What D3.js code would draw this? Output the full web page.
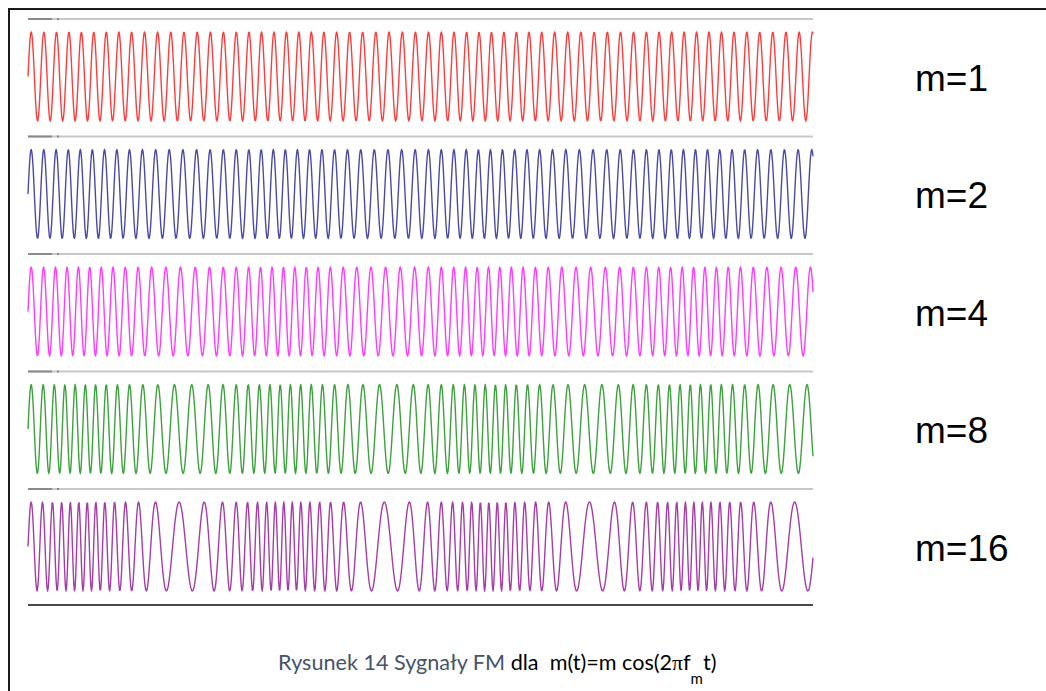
<!DOCTYPE html>
<html>
<head>
<meta charset="utf-8">
<script src="https://cdn.jsdelivr.net/npm/d3@7"></script>
<style>
  html, body { margin: 0; padding: 0; background: #fff; }
  svg { display: block; }
</style>
</head>
<body>
<svg id="chart" width="1046" height="691"></svg>
<script>
// Modulation index of each trace, top to bottom
const indices = [1, 2, 4, 8, 16];
const labels = ["m=1", "m=2", "m=4", "m=8", "m=16"];
const colors = ["#ff1a1a", "#2a2a96", "#ff1aff", "#1a921a", "#961a96"];

// Signal parameters (cycles per plotted window)
const carrierCycles = [61.25];          // f_c
const modulationCycles = [3.83];        // f_m
const deviationPerIndex = [2.0];        // frequency deviation per unit of m
const modulationPeakAt = [0.066];       // window position where m(t) is at its maximum
const samplesPerWindow = [1200];        // sampling of each trace

const captionParts = ["Rysunek 14 Sygnały FM", "dla\u00a0\u00a0m(t)=m cos(2", "π", "f", "m", "t)"];

const svg = d3.select("#chart");
const W = 1046, H = 691;

// page frame
svg.append("path")
  .attr("d", `M${W + 5},9 H9 V${H + 5}`)
  .attr("fill", "none")
  .attr("stroke", "#1a1a1a")
  .attr("stroke-width", 2);

const plotLeft = 28, plotRight = 813;
const firstTop = 19, panelStep = 117.5, amp = 44.5, centerOffset = 57.5;
const bottomY = 605;

const x = d3.scaleLinear().domain([0, 1]).range([plotLeft, plotRight]);
const band = d3.scaleLinear().domain([0, 1]).range([firstTop, firstTop + panelStep]);

const fc = carrierCycles[0], fm = modulationCycles[0], kd = deviationPerIndex[0], t0 = modulationPeakAt[0];
const N = samplesPerWindow[0];
const ts = d3.range(N + 1).map(i => i / N);

function fmSamples(m) {
  const beta = kd * m / fm;
  const offset = beta * Math.sin(2 * Math.PI * fm * (0 - t0));
  return ts.map(t => ({
    t,
    v: Math.sin(2 * Math.PI * fc * t + beta * Math.sin(2 * Math.PI * fm * (t - t0)) - offset)
  }));
}

indices.forEach((m, i) => {
  const top = band(i);
  const cy = top + centerOffset;
  const y = d3.scaleLinear().domain([-1, 1]).range([cy + amp, cy - amp]);

  // axis rule separating the traces
  const g = svg.append("g");
  g.append("line")
    .attr("x1", plotLeft).attr("x2", plotRight)
    .attr("y1", top).attr("y2", top)
    .attr("stroke", "#c8c8c8").attr("stroke-width", 2);
  g.append("line")
    .attr("x1", plotLeft).attr("x2", plotLeft + 24)
    .attr("y1", top).attr("y2", top)
    .attr("stroke", "#8a8a8a").attr("stroke-width", 2);
  g.append("rect")
    .attr("x", plotLeft + 29).attr("y", top - 1)
    .attr("width", 2).attr("height", 2)
    .attr("fill", "#8a8a8a");

  const line = d3.line()
    .x(d => x(d.t))
    .y(d => y(d.v));

  g.append("path")
    .datum(fmSamples(m))
    .attr("d", line)
    .attr("fill", "none")
    .attr("stroke", colors[i])
    .attr("stroke-width", 1.4)
    .attr("stroke-opacity", 0.85)
    .attr("stroke-linejoin", "round");

  svg.append("text")
    .attr("x", 915)
    .attr("y", cy + 14)
    .attr("font-family", "Liberation Sans, Arial, sans-serif")
    .attr("font-size", 37)
    .attr("fill", "#000")
    .text(labels[i]);
});

// bottom axis rule
svg.append("line")
  .attr("x1", plotLeft).attr("x2", plotRight)
  .attr("y1", bottomY).attr("y2", bottomY)
  .attr("stroke", "#4a4a4a").attr("stroke-width", 2);

// caption
const cap = svg.append("text")
  .attr("x", 278)
  .attr("y", 670)
  .attr("font-family", "Lato, 'Open Sans', sans-serif")
  .attr("font-size", 21.6);
cap.append("tspan").attr("fill", "#44546a").text(captionParts[0] + " ");
cap.append("tspan").attr("fill", "#000").text(captionParts[1]);
cap.append("tspan").attr("fill", "#000").attr("font-family", "Liberation Serif, serif").text(captionParts[2]);
cap.append("tspan").attr("fill", "#000").text(captionParts[3]);
cap.append("tspan").attr("fill", "#000").attr("font-size", 15).attr("dy", 14).text(captionParts[4]);
cap.append("tspan").attr("fill", "#000").attr("dy", -14).text(captionParts[5]);
</script>
</body>
</html>
